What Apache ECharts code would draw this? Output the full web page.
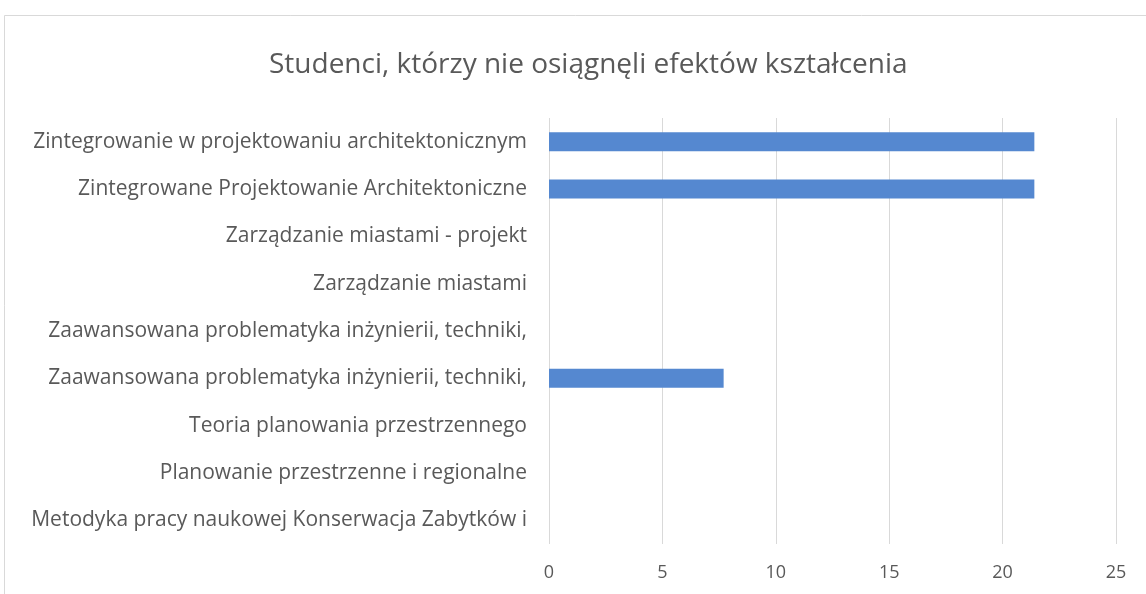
<!DOCTYPE html>
<html><head><meta charset="utf-8">
<script src="https://cdn.jsdelivr.net/npm/echarts@6/dist/echarts.min.js"></script>
<style>html,body{margin:0;padding:0;background:#fff}#c{width:1146px;height:594px}</style>
</head><body><div id="c"></div>
<script>
const titleText = 'Studenci, którzy nie osiągnęli efektów kształcenia';
const categories = [
  'Metodyka pracy naukowej Konserwacja Zabytków i',
  'Planowanie przestrzenne i regionalne',
  'Teoria planowania przestrzennego',
  'Zaawansowana problematyka inżynierii, techniki,',
  'Zaawansowana problematyka inżynierii, techniki,',
  'Zarządzanie miastami',
  'Zarządzanie miastami - projekt',
  'Zintegrowane Projektowanie Architektoniczne',
  'Zintegrowanie w projektowaniu architektonicznym'
];
const values = [0, 0, 0, 7.7, 0, 0, 0, 21.4, 21.4];
const xTicks = { min: 0, max: 25, interval: 5 };

const chart = echarts.init(document.getElementById('c'), null, { renderer: 'canvas' });
const font = '"Open Sans", "DejaVu Sans", sans-serif';
chart.setOption({
  backgroundColor: '#fff',
  animation: false,
  graphic: [{
    type: 'rect', shape: { x: 4.5, y: 15.5, width: 1300, height: 700 },
    style: { fill: 'none', stroke: '#d9d9d9', lineWidth: 1 }, z: -1
  }],
  title: {
    text: titleText, left: 264, top: 46,
    textStyle: { fontFamily: font, fontSize: 28, fontWeight: 'normal', color: '#595959' }
  },
  grid: { left: 549, right: 30, top: 118, bottom: 50 },
  xAxis: {
    type: 'value', min: xTicks.min, max: xTicks.max, interval: xTicks.interval,
    axisLine: { show: false }, axisTick: { show: false },
    splitLine: { lineStyle: { color: '#d9d9d9', width: 1 } },
    axisLabel: { fontFamily: font, fontSize: 18, color: '#595959', margin: 20 }
  },
  yAxis: {
    type: 'category', data: categories,
    axisLine: { show: false }, axisTick: { show: false },
    axisLabel: { fontFamily: font, fontSize: 21, color: '#595959', margin: 22 }
  },
  series: [{
    type: 'bar', data: values, barWidth: 19,
    itemStyle: { color: '#5588d0' }
  }]
});
</script></body></html>
